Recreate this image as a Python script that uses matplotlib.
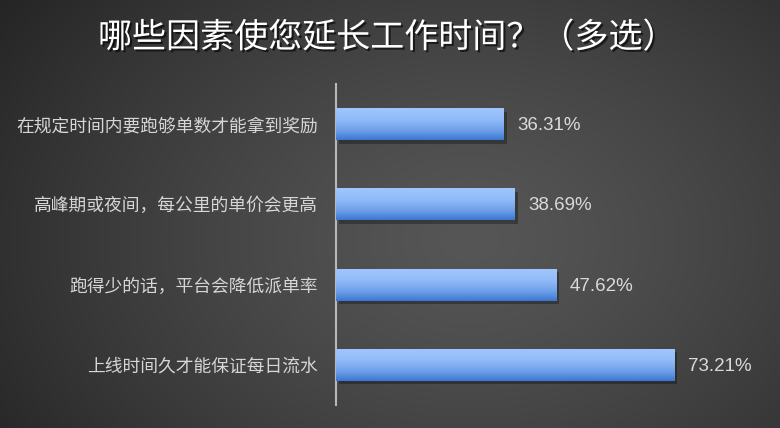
import numpy as np
import matplotlib
matplotlib.use("Agg")
import matplotlib.pyplot as plt
import matplotlib.patheffects as pe
from matplotlib.colors import LinearSegmentedColormap

plt.rcParams['font.family'] = ['Noto Sans CJK SC', 'DejaVu Sans']

# data (top to bottom as shown)
categories = ['在规定时间内要跑够单数才能拿到奖励',
              '高峰期或夜间，每公里的单价会更高',
              '跑得少的话，平台会降低派单率',
              '上线时间久才能保证每日流水']
values = [36.31, 38.69, 47.62, 73.21]
title = '哪些因素使您延长工作时间？（多选）'

fig = plt.figure(figsize=(7.8, 4.28), dpi=100)

# radial grey background
bg = fig.add_axes([0, 0, 1, 1], zorder=-10)
yy, xx = np.mgrid[0:428, 0:780]
r = np.sqrt(((xx - 470) / 520.0) ** 2 + ((yy - 240) / 380.0) ** 2)
shade = np.clip(0.34 - 0.17 * r ** 1.3, 0.15, 0.34)
bg.imshow(shade, cmap='gray', vmin=0, vmax=1, aspect='auto', extent=[0, 1, 0, 1])
bg.set_axis_off()

ax = fig.add_axes([336 / 780, 23 / 428, 416 / 780, 321 / 428])
ax.patch.set_alpha(0)
ypos = np.arange(len(categories))
bars = ax.barh(ypos, values, height=0.4, color='#8ab4f5', zorder=2,
               path_effects=[pe.SimplePatchShadow(offset=(2, -2.5), shadow_rgbFace='black', alpha=0.3),
                             pe.Normal()])

# vertical gradient on each bar
cmap = LinearSegmentedColormap.from_list(
    'barg', [(0, '#3b78d2'), (0.3, '#6fa1ea'), (0.65, '#93bcf9'), (1, '#a0c6fd')])
grad = np.linspace(0, 1, 100).reshape(-1, 1)
for b in bars:
    x0, y0 = b.get_x(), b.get_y()
    w, h = b.get_width(), b.get_height()
    im = ax.imshow(grad, cmap=cmap, aspect='auto', origin='upper',
                   extent=[x0, x0 + w, y0, y0 + h], zorder=3)
    im.set_clip_path(b)
    ax.text(x0 + w + 3, y0 + h / 2 + 0.02, f'{w:.2f}%', va='center', ha='left',
            color='#dadada', fontsize=13.5, family=['Liberation Sans', 'DejaVu Sans'])
ax.set_xlim(0, 90)
ax.set_ylim(len(categories) - 0.5, -0.5)

ax.set_yticks(ypos)
ax.set_yticklabels(categories, color='#d6d6d6', fontsize=12.8)
ax.tick_params(axis='y', length=0, pad=13)
ax.set_xticks([])
for s in ['top', 'right', 'bottom']:
    ax.spines[s].set_visible(False)
ax.spines['left'].set_color('#b8b8b8')
ax.spines['left'].set_linewidth(1.5)

fig.text(387 / 780, 1 - 38 / 428, title, ha='center', va='center',
         color='white', fontsize=24.5,
         path_effects=[pe.withSimplePatchShadow(offset=(1.5, -1.5), shadow_rgbFace='black', alpha=0.6)])

fig.savefig('out.png', dpi=100)
